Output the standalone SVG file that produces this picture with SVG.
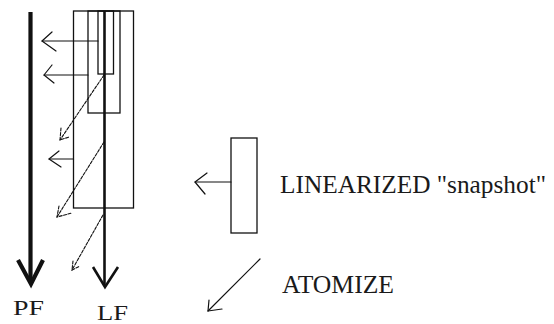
<svg xmlns="http://www.w3.org/2000/svg" width="554" height="324" viewBox="0 0 554 324">
  <style>
    .box { fill: none; stroke: #111; stroke-width: 1.3; }
    .thin { fill: none; stroke: #111; stroke-width: 1.2; stroke-linecap: round; stroke-linejoin: round; }
    .dash { fill: none; stroke: #111; stroke-width: 1.1; stroke-dasharray: 3 1.5; stroke-linecap: round; }
    .label { font-family: "Liberation Serif", "Times New Roman", serif; fill: #1a1a1a; }
  </style>
  <rect width="554" height="324" fill="#ffffff"/>

  <!-- nested frame boxes -->
  <g id="frame-outer"><rect class="box" x="73.5" y="11" width="60" height="197"/></g>
  <g id="frame-middle"><rect class="box" x="88" y="11" width="32" height="102"/></g>
  <g id="frame-inner"><rect class="box" x="98" y="11" width="15.5" height="63"/></g>

  <!-- PF axis -->
  <g id="pf">
    <line x1="30.5" y1="12" x2="30.5" y2="282" stroke="#111" stroke-width="4.2"/>
    <polyline points="18,260 31,284 43,260" fill="none" stroke="#111" stroke-width="4.2" stroke-linejoin="miter"/>
    <text class="label" x="13" y="315" font-size="22" textLength="31" lengthAdjust="spacingAndGlyphs">PF</text>
  </g>

  <!-- LF axis -->
  <g id="lf">
    <line x1="104.5" y1="11" x2="104.5" y2="285" stroke="#111" stroke-width="2.6"/>
    <polyline points="93,267 105,287 118,267" fill="none" stroke="#111" stroke-width="2.6"/>
    <text class="label" x="97" y="320" font-size="21" textLength="31" lengthAdjust="spacingAndGlyphs">LF</text>
  </g>

  <!-- legend: linearized snapshot -->
  <g id="legend-snapshot">
    <rect class="box" x="231" y="138" width="26" height="95"/>
    <line class="thin" x1="231" y1="182" x2="195" y2="182"/>
    <polyline class="thin" points="207,173 195,182 205,194"/>
    <text class="label" x="280" y="193" font-size="25" textLength="266" lengthAdjust="spacingAndGlyphs">LINEARIZED "snapshot"</text>
  </g>

  <!-- legend: atomize -->
  <g id="legend-atomize">
    <line class="thin" x1="260" y1="259" x2="208" y2="311"/>
    <polyline class="thin" points="209,300 208,311 222,309"/>
    <text class="label" x="282" y="293" font-size="25" textLength="112" lengthAdjust="spacingAndGlyphs">ATOMIZE</text>
  </g>

  <!-- connectors -->
  <g id="connectors">
    <!-- snapshots projected onto PF -->
    <line class="thin" x1="98" y1="41" x2="42" y2="41"/>
    <polyline class="thin" points="52,32 42,41 56,51"/>
    <line class="thin" x1="88" y1="75" x2="44" y2="75"/>
    <polyline class="thin" points="52,65 44,75 54,83"/>
    <line class="thin" x1="73.5" y1="159" x2="49" y2="159"/>
    <polyline class="thin" points="59,151 49,159 61,167"/>

    <!-- atomized steps -->
    <line class="dash" x1="104" y1="75" x2="60" y2="140"/>
    <polyline class="dash" points="61,128 60,140 69,137"/>
    <line class="dash" x1="104" y1="142" x2="57" y2="217"/>
    <polyline class="dash" points="59,206 57,217 72,213"/>
    <line class="dash" x1="103" y1="215" x2="72" y2="270"/>
    <polyline class="dash" points="73,261 72,270 80,266"/>
  </g>
</svg>
